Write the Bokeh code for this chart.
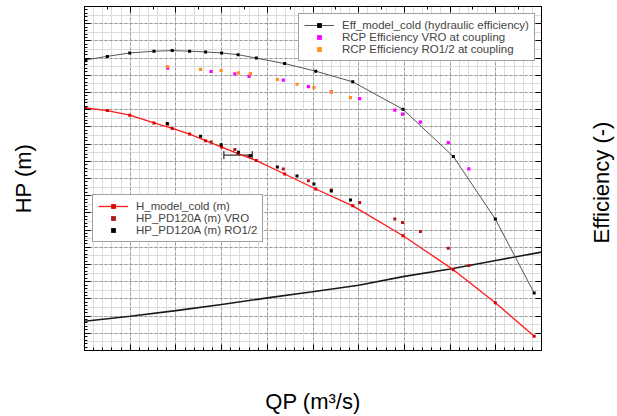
import math
from bokeh.plotting import figure
from bokeh.models import (Range1d, LinearAxis, SingleIntervalTicker, Grid, Legend, Label,
                          LegendItem, Whisker, ColumnDataSource, TeeHead, CustomJSTickFormatter)
from bokeh.embed import file_html
from bokeh.resources import INLINE

# ---- data ----
q_model = [0.03, 0.50, 0.99, 1.52, 1.92, 2.30, 2.65, 3.00, 3.36, 3.76, 4.38, 5.06, 5.87, 6.97, 8.07, 8.99, 9.84]
eff_model = [0.845, 0.855, 0.865, 0.870, 0.872, 0.870, 0.868, 0.865, 0.860, 0.850, 0.834, 0.812, 0.781, 0.701, 0.564, 0.382, 0.167]
h_model = [14.10, 13.95, 13.68, 13.23, 12.91, 12.58, 12.20, 11.83, 11.45, 11.04, 10.26, 9.39, 8.41, 6.67, 4.70, 2.77, 0.83]

q_vro = [1.82, 2.77, 3.29, 3.60, 4.35, 4.90, 5.40, 6.02, 6.79, 6.96, 7.35, 7.96, 8.41]
eff_vro = [0.821, 0.811, 0.804, 0.797, 0.786, 0.767, 0.752, 0.732, 0.699, 0.687, 0.664, 0.604, 0.528]
hp_vro = [13.16, 12.12, 11.68, 11.30, 10.55, 9.87, 9.33, 8.60, 7.64, 7.44, 6.92, 5.94, 4.94]

q_ro = [1.81, 2.54, 2.99, 3.37, 3.63, 4.22, 4.65, 5.02, 5.40, 5.82]
eff_ro = [0.825, 0.817, 0.814, 0.807, 0.805, 0.788, 0.774, 0.764, 0.752, 0.735]
hp_ro = [13.20, 12.46, 11.96, 11.52, 11.32, 10.67, 10.14, 9.68, 9.28, 8.75]

q_low = [0.0, 1.0, 2.0, 3.0, 4.0, 4.95, 6.0, 7.0, 8.0, 9.0, 10.0]
h_low = [1.70, 1.99, 2.32, 2.67, 3.06, 3.40, 3.79, 4.31, 4.74, 5.23, 5.72]

err_q = [3.36]
err_h = [11.36]
err_dq = [0.31]

x_title = "QP (m³/s)"
y_title = "HP (m)"
y2_title = "Efficiency (-)"

FONT = "Liberation Sans"
TITLE_SIZE = "22px"

p = figure(width=617, height=416, x_range=Range1d(0, 10), y_range=Range1d(0, 20),
           output_backend="svg", toolbar_location=None,
           min_border_left=84, min_border_right=76, min_border_top=6, min_border_bottom=66)
p.extra_y_ranges = {"eff": Range1d(0, 1)}
p.background_fill_color = "white"
p.border_fill_color = "white"
p.outline_line_color = "black"
p.outline_line_width = 1

blank = CustomJSTickFormatter(code="return ''")

# axes
def style_axis(ax):
    ax.formatter = blank
    ax.major_label_text_color = None
    ax.major_label_text_font_size = "1px"
    ax.major_label_standoff = 0
    ax.major_tick_in = 6
    ax.major_tick_out = 0
    ax.minor_tick_in = 3
    ax.minor_tick_out = 0
    ax.axis_line_color = "black"
    ax.major_tick_line_color = "black"
    ax.minor_tick_line_color = "black"
    ax.axis_label_text_font = FONT
    ax.axis_label_text_font_style = "normal"
    ax.axis_label_text_font_size = TITLE_SIZE
    ax.axis_label_text_color = "black"

xax = p.xaxis[0]
xax.ticker = SingleIntervalTicker(interval=1, num_minor_ticks=5)
xax.axis_label = x_title
style_axis(xax)
xax.axis_label_standoff = 38

yax = p.yaxis[0]
yax.ticker = SingleIntervalTicker(interval=1, num_minor_ticks=5)
yax.axis_label = y_title
style_axis(yax)
yax.axis_label_standoff = 49

top = LinearAxis(ticker=SingleIntervalTicker(interval=1, num_minor_ticks=2))
style_axis(top)
p.add_layout(top, "above")

right = LinearAxis(y_range_name="eff", ticker=SingleIntervalTicker(interval=0.05, num_minor_ticks=0))
style_axis(right)
p.add_layout(right, "right")

# right-hand title, reading bottom to top, placed in the right border panel
p.add_layout(Label(x=60, y=168, x_units="screen", y_units="screen", text=y2_title,
                   angle=math.pi / 2, text_align="center", text_baseline="middle",
                   text_font=FONT, text_font_size=TITLE_SIZE, text_color="black"), "right")

# grids
p.xgrid.grid_line_color = "#9a9a9a"
p.xgrid.grid_line_dash = "3 2"
p.xgrid.minor_grid_line_color = "#dcdcdc"
p.ygrid.grid_line_color = "#9a9a9a"
p.ygrid.grid_line_dash = "3 2"
p.ygrid.minor_grid_line_color = None
ymin = Grid(dimension=1, ticker=SingleIntervalTicker(interval=1, num_minor_ticks=2),
            grid_line_color=None, minor_grid_line_color="#dcdcdc")
p.renderers.insert(0, ymin)

# lower black curve
p.line(q_low, h_low, line_color="#1a1a1a", line_width=1.6)

# efficiency model
eff_line = p.line(q_model, eff_model, y_range_name="eff", line_color="#555555", line_width=1)
eff_pts = p.scatter(q_model, eff_model, y_range_name="eff", marker="square", size=3,
                    fill_color="black", line_color=None)
vro_eff = p.scatter(q_vro, eff_vro, y_range_name="eff", marker="square", size=3.2,
                    fill_color="#ff00ff", line_color=None)
ro_eff = p.scatter(q_ro, eff_ro, y_range_name="eff", marker="square", size=3.2,
                   fill_color="#ff9020", line_color=None)

# head model
h_line = p.line(q_model, h_model, line_color="#ff1a1a", line_width=1.3)
h_pts = p.scatter(q_model, h_model, marker="square", size=3, fill_color="#e00000", line_color=None)
vro_hp = p.scatter(q_vro, hp_vro, marker="square", size=3, fill_color="#b01818", line_color=None)
ro_hp = p.scatter(q_ro, hp_ro, marker="square", size=3, fill_color="black", line_color=None)

# error bar
src = ColumnDataSource(dict(lo=[a - b for a, b in zip(err_q, err_dq)],
                            hi=[a + b for a, b in zip(err_q, err_dq)], y=err_h))
wh = Whisker(source=src, base="y", lower="lo", upper="hi", dimension="width",
             line_color="black", line_width=1,
             lower_head=TeeHead(size=8, line_color="black"), upper_head=TeeHead(size=8, line_color="black"))
p.add_layout(wh)

def style_legend(lg):
    lg.label_text_font = FONT
    lg.label_text_font_size = "11.5px"
    lg.label_height = 12
    lg.glyph_height = 12
    lg.glyph_width = 30
    lg.label_standoff = 8
    lg.spacing = 0
    lg.padding = 5
    lg.margin = 0
    lg.border_line_color = "#444444"
    lg.border_line_width = 1
    lg.background_fill_color = "white"
    lg.background_fill_alpha = 1

leg1 = Legend(items=[LegendItem(label="Eff_model_cold (hydraulic efficiency)", renderers=[eff_line, eff_pts]),
                     LegendItem(label="RCP Efficiency VRO at coupling", renderers=[vro_eff]),
                     LegendItem(label="RCP Efficiency RO1/2 at coupling", renderers=[ro_eff])],
              location=(214, 289))
style_legend(leg1)
p.add_layout(leg1, "center")

leg2 = Legend(items=[LegendItem(label="H_model_cold (m)", renderers=[h_line, h_pts]),
                     LegendItem(label="HP_PD120A (m) VRO", renderers=[vro_hp]),
                     LegendItem(label="HP_PD120A (m) RO1/2", renderers=[ro_hp])],
              location=(8, 108))
style_legend(leg2)
p.add_layout(leg2, "center")

open("out.html", "w").write(file_html(p, INLINE))
